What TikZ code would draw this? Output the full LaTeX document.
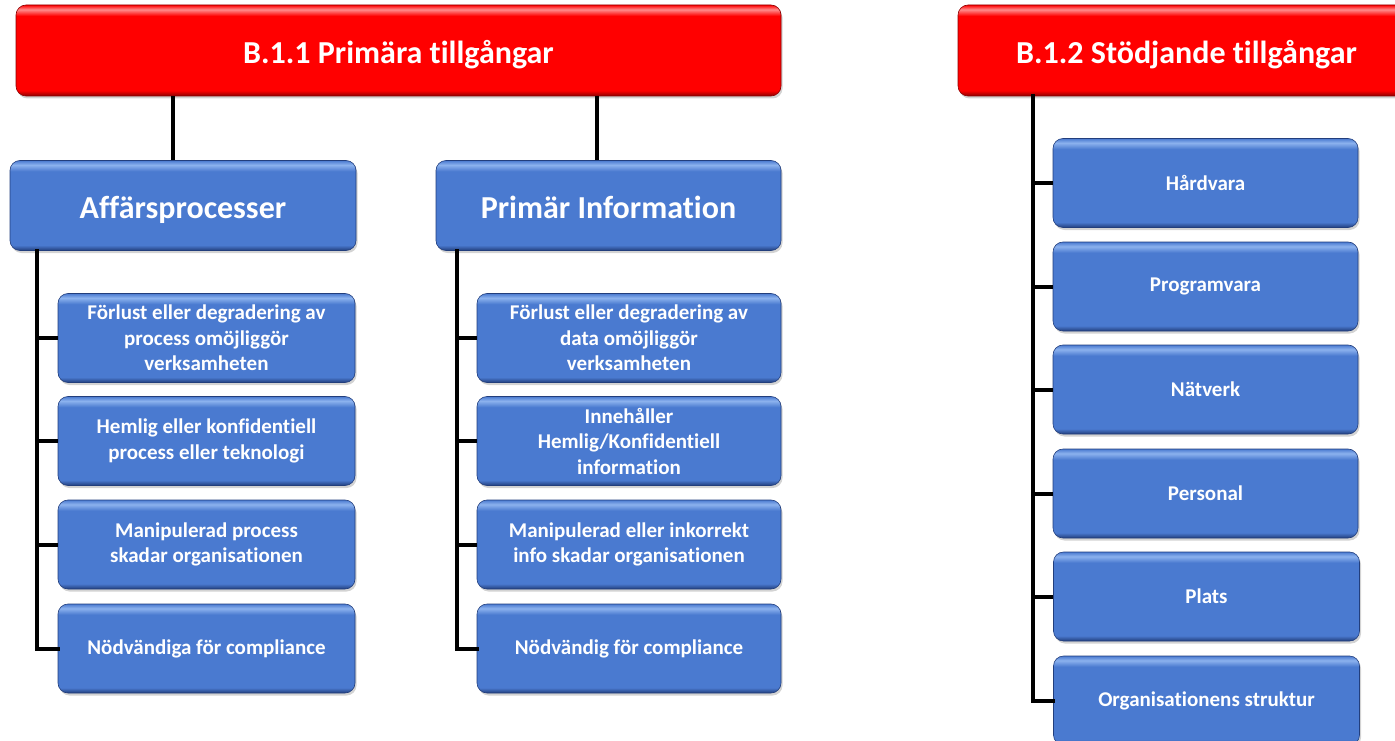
\documentclass[tikz,border=0pt]{standalone}
\usepackage{fontspec}
\setmainfont{Carlito}[Ligatures=NoCommon]
\usetikzlibrary{shadows,calc}
\definecolor{bmain}{RGB}{74,122,208}
\definecolor{blight}{RGB}{140,178,238}
\definecolor{bdark}{RGB}{34,62,124}
\definecolor{rmain}{RGB}{255,0,0}
\definecolor{rlight}{RGB}{255,140,140}
\definecolor{rdark}{RGB}{140,0,0}
% bevelled fills: dark lower rim, flat body, light stripe under the top edge
\pgfdeclareverticalshading{bluebevel}{100bp}{color(0bp)=(bdark); color(25bp)=(bdark); color(28bp)=(bmain); color(69bp)=(bmain); color(72.5bp)=(blight); color(75bp)=(bmain); color(100bp)=(bmain)}
\pgfdeclareverticalshading{redbevel}{100bp}{color(0bp)=(rdark); color(25bp)=(rdark); color(28bp)=(rmain); color(69bp)=(rmain); color(72.5bp)=(rlight); color(75bp)=(rmain); color(100bp)=(rmain)}
\tikzset{
  box/.style={rounded corners=10pt, text=white, inner sep=0pt,
    line width=0.6pt,
    drop shadow={opacity=0.35, shadow xshift=1.5pt, shadow yshift=-2.5pt}},
  headbox/.style={box, shading=redbevel, draw=rdark, minimum height=91pt,
    text height=33pt, text depth=7pt,
    font=\bfseries\fontsize{32}{36}\selectfont},
  groupbox/.style={box, shading=bluebevel, draw=bdark, minimum height=90pt,
    minimum width=346pt, text height=32pt, text depth=7pt,
    font=\bfseries\fontsize{32}{36}\selectfont},
  leaf/.style={box, align=center, shading=bluebevel, draw=bdark, minimum height=89pt,
    font=\bfseries\fontsize{21}{25.5}\selectfont},
  wire/.style={line width=4pt, black}
}
\begin{document}
\begin{tikzpicture}[x=1pt,y=-1pt]
\useasboundingbox (0,0) rectangle (1395,741);

% headers
\node[headbox, minimum width=765pt] (h1) at (398.5,50.5) {B.1.1 Primära tillgångar};
\node[headbox, minimum width=457pt] (h2) at (1186.5,50.5) {B.1.2 Stödjande tillgångar};

% group boxes
\node[groupbox] (aff) at (183,205.5) {Affärsprocesser};
\node[groupbox, minimum width=345pt] (inf) at (608.5,205.5) {Primär Information};

% business process leaves
\node[leaf, minimum width=297pt] (a1) at (206.5,338) {Förlust eller degradering av\\process omöjliggör\\verksamheten};
\node[leaf, minimum width=297pt] (a2) at (206.5,441) {Hemlig eller konfidentiell\\process eller teknologi};
\node[leaf, minimum width=297pt] (a3) at (206.5,544.5) {Manipulerad process\\skadar organisationen};
\node[leaf, minimum width=297pt] (a4) at (206.5,648.5) {Nödvändiga för compliance};

% primary information leaves
\node[leaf, minimum width=304pt] (i1) at (629,338) {Förlust eller degradering av\\data omöjliggör\\verksamheten};
\node[leaf, minimum width=304pt] (i2) at (629,441) {Innehåller\\Hemlig/Konfidentiell\\information};
\node[leaf, minimum width=304pt] (i3) at (629,544.5) {Manipulerad eller inkorrekt\\info skadar organisationen};
\node[leaf, minimum width=304pt] (i4) at (629,648.5) {Nödvändig för compliance};

% supporting asset leaves
\node[leaf, minimum width=305pt] (s1) at (1205.5,183) {Hårdvara};
\node[leaf, minimum width=305pt] (s2) at (1205.5,286.5) {Programvara};
\node[leaf, minimum width=305pt] (s3) at (1205.5,389.5) {Nätverk};
\node[leaf, minimum width=305pt] (s4) at (1205.5,493.5) {Personal};
\node[leaf, minimum width=306pt] (s5) at (1206.5,596.5) {Plats};
\node[leaf, minimum width=306pt] (s6) at (1206.5,700.5) {Organisationens struktur};

% header to group connectors
\coordinate (ca) at ([xshift=163pt]aff.north west);
\coordinate (ci) at ([xshift=161pt]inf.north west);
\draw[wire] (ca) -- (ca |- h1.south);
\draw[wire] (ci) -- (ci |- h1.south);

% spines and branches
\coordinate (sa) at ([xshift=27pt]aff.south west);
\coordinate (si) at ([xshift=21pt]inf.south west);
\coordinate (ss) at ([xshift=75pt]h2.south west);
\draw[wire, line cap=rect] (sa) |- (a4.west);
\foreach \n in {a1,a2,a3} \draw[wire] (sa |- \n.west) -- (\n.west);
\draw[wire, line cap=rect] (si) |- (i4.west);
\foreach \n in {i1,i2,i3} \draw[wire] (si |- \n.west) -- (\n.west);
\draw[wire, line cap=rect] (ss) |- (s6.west);
\foreach \n in {s1,s2,s3,s4,s5} \draw[wire] (ss |- \n.west) -- (\n.west);
\end{tikzpicture}
\end{document}
